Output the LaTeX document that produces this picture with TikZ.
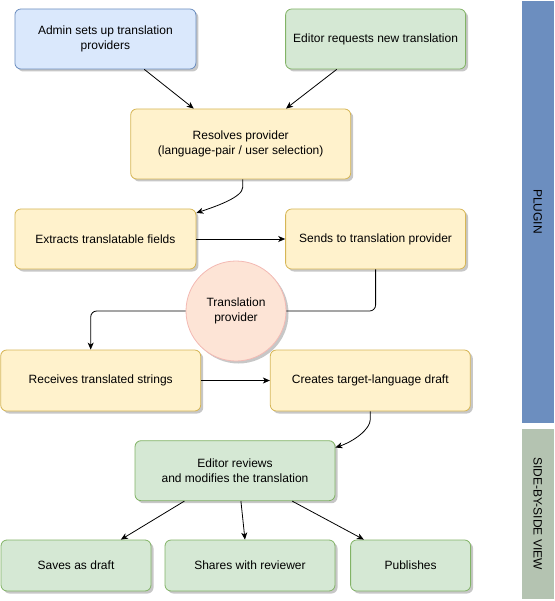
\documentclass[tikz,border=0pt]{standalone}
\usepackage{fontspec}
\setmainfont{Liberation Sans}
\usetikzlibrary{arrows.meta,shadows}
\definecolor{bluefill}{HTML}{DAE8FC}
\definecolor{blueline}{HTML}{6C8EBF}
\definecolor{greenfill}{HTML}{D5E8D4}
\definecolor{greenline}{HTML}{82B366}
\definecolor{yellowfill}{HTML}{FFF2CC}
\definecolor{yellowline}{HTML}{D6B656}
\definecolor{peachfill}{HTML}{FDE4D6}
\definecolor{peachline}{HTML}{F3B9B3}
\definecolor{pluginbar}{HTML}{6C8EBF}
\definecolor{viewbar}{HTML}{B4C3B1}
\tikzset{
    box/.style={draw, rounded corners=6pt, line width=0.8pt, align=center, inner sep=0pt,
        font=\fontsize{12}{14.5}\selectfont,
        drop shadow={shadow xshift=2.5pt, shadow yshift=-2.5pt, opacity=0.22, fill=black}},
    bluebox/.style={box, fill=bluefill, draw=blueline},
    greenbox/.style={box, fill=greenfill, draw=greenline},
    yellowbox/.style={box, fill=yellowfill, draw=yellowline},
    bar/.style={draw=white, line width=0.8pt, rotate=-90, minimum height=32.5pt, inner sep=0pt,
        font=\fontsize{12}{14.5}\selectfont},
    arr/.style={-{Stealth[length=7pt,width=6pt,inset=2pt]}, line width=0.8pt},
}
\begin{document}
\begin{tikzpicture}[x=1pt,y=-1pt]
        \useasboundingbox (0,0) rectangle (554,601);
        \node[bar, fill=pluginbar, minimum width=423pt] (plugin) at (537.75,211.5) {PLUGIN};
        \node[bar, fill=viewbar, minimum width=171pt] (sidebyside) at (537.75,513.5) {SIDE-BY-SIDE VIEW};
        \node[bluebox, minimum width=181pt, minimum height=60pt] (admin) at (105.4,39) {Admin sets up translation\\providers};
        \node[greenbox, minimum width=180pt, minimum height=60pt] (request) at (375.6,39) {Editor requests new translation};
        \node[yellowbox, minimum width=220pt, minimum height=70pt] (resolve) at (240.7,144) {Resolves provider\\(language-pair / user selection)};
        \node[yellowbox, minimum width=181pt, minimum height=60pt] (extract) at (105.4,239) {Extracts translatable fields};
        \node[yellowbox, minimum width=180pt, minimum height=60pt] (send) at (375.6,239) {Sends to translation provider};
        \node[box, circle, fill=peachfill, draw=peachline, minimum size=100pt] (tp) at (236,311) {Translation\\provider};
        \node[yellowbox, minimum width=200pt, minimum height=61pt] (receive) at (100.7,380.5) {Receives translated strings};
        \node[yellowbox, minimum width=200pt, minimum height=61pt] (create) at (370.3,380.5) {Creates target-language draft};
        \node[greenbox, minimum width=200pt, minimum height=60pt] (review) at (235,470.7) {Editor reviews\\and modifies the translation};
        \node[greenbox, minimum width=150pt, minimum height=51pt] (savedraft) at (76,565.5) {Saves as draft};
        \node[greenbox, minimum width=170pt, minimum height=51pt] (share) at (250,565.5) {Shares with reviewer};
        \node[greenbox, minimum width=120pt, minimum height=51pt] (publish) at (410.6,565.5) {Publishes};
        \draw[arr] (admin.-38) -- (resolve.143);
        \draw[arr] (request.-142) -- (resolve.38);
        \draw[arr] ([xshift=2pt]resolve.south) -- ++(0,8) .. controls +(0,10) and +(18,-6) .. (extract.16);
        \draw[arr] (extract) -- (send);
        \draw[line width=0.8pt, rounded corners=6pt] (send.south) |- (tp.east);
        \draw[arr, rounded corners=6pt] (tp.west) -| ([xshift=-10pt]receive.north);
        \draw[arr] (receive) -- (create);
        \draw[arr] (create.south) -- ++(0,8) .. controls +(0,10) and +(18,-6) .. (review.13);
        \draw[arr] (review.-149) -- (savedraft.30);
        \draw[arr] (review.-79) -- (share.101);
        \draw[arr] (review.-28) -- (publish.151);
    \end{tikzpicture}
\end{document}
